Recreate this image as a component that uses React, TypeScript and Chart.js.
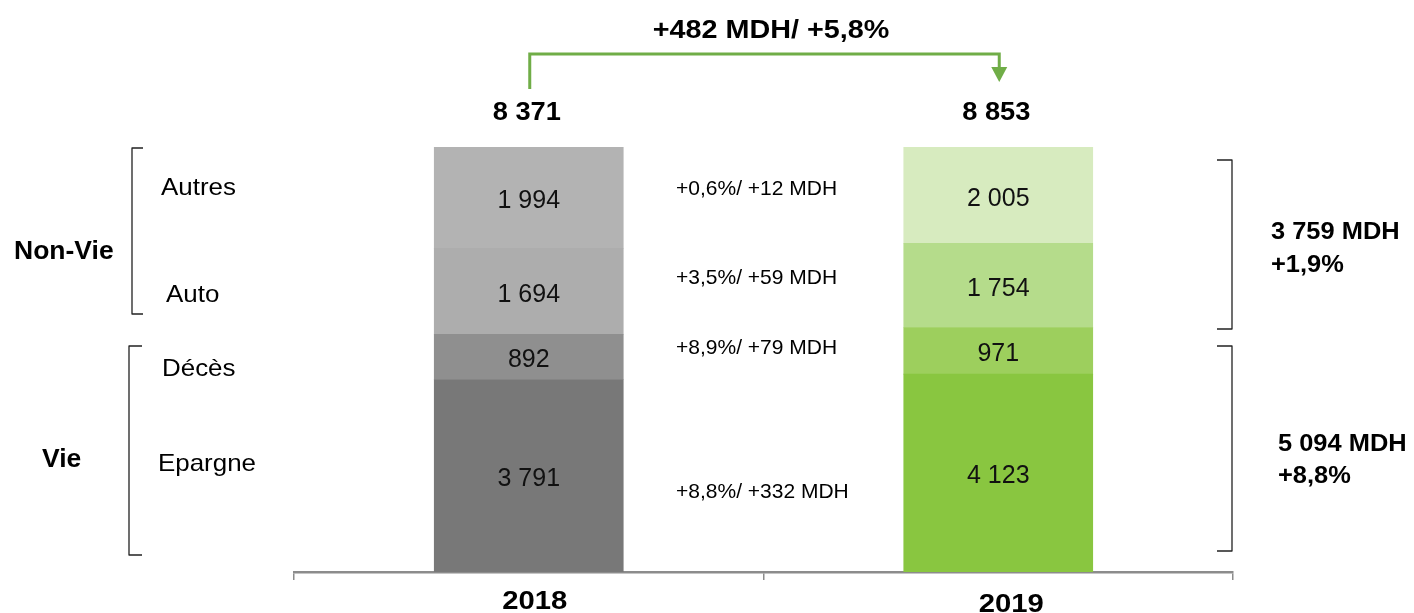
import React, { useEffect, useRef } from 'react';
import { Chart, registerables } from 'chart.js';

Chart.register(...registerables);

// ---- data ----
const years = ['2018', '2019'];
const segmentNames = ['Epargne', 'Décès', 'Auto', 'Autres']; // bottom -> top
const epargne = [3791, 4123];
const deces = [892, 971];
const auto = [1694, 1754];
const autres = [1994, 2005];
const segmentChanges = ['+8,8%/ +332 MDH', '+8,9%/ +79 MDH', '+3,5%/ +59 MDH', '+0,6%/ +12 MDH'];
const groupNames = ['Vie', 'Non-Vie'];
const groupGrowth = ['+8,8%', '+1,9%'];
const totalChange = '+482 MDH/ +5,8%';

const grayPalette = ['#787878', '#8f8f8f', '#adadad', '#b3b3b3'];
const greenPalette = ['#89c640', '#9dcf5d', '#b5dc8b', '#d7ebbf'];

const series = [epargne, deces, auto, autres];
const totals = years.map((_, i) => series.reduce((s, a) => s + a[i], 0));
const vie2019 = epargne[1] + deces[1];
const nonVie2019 = auto[1] + autres[1];

const fmt = (n: number) => Math.round(n).toString().replace(/\B(?=(\d{3})+(?!\d))/g, ' ');

const FONT = '"Liberation Sans", Arial, sans-serif';

function txt(ctx: CanvasRenderingContext2D, s: string, x: number, y: number, size: number, bold: boolean, align: CanvasTextAlign = 'left', sx = 1, baseline: CanvasTextBaseline = 'alphabetic', color = '#000') {
  ctx.save();
  ctx.font = `${bold ? 'bold ' : ''}${size}px ${FONT}`;
  ctx.textAlign = align;
  ctx.textBaseline = baseline;
  ctx.fillStyle = color;
  ctx.translate(x, y);
  ctx.scale(sx, 1);
  ctx.fillText(s, 0, 0);
  ctx.restore();
}

function bracket(ctx: CanvasRenderingContext2D, x: number, y1: number, y2: number, tip: number) {
  ctx.save();
  ctx.strokeStyle = '#222';
  ctx.lineWidth = 1.3;
  ctx.lineJoin = 'round';
  ctx.beginPath();
  ctx.moveTo(tip, y1);
  ctx.lineTo(x, y1);
  ctx.lineTo(x, y2);
  ctx.lineTo(tip, y2);
  ctx.stroke();
  ctx.restore();
}

const valueLabels = {
  id: 'valueLabels',
  afterDatasetsDraw(chart: any) {
    const ctx = chart.ctx;
    chart.data.datasets.forEach((ds: any, k: number) => {
      const meta = chart.getDatasetMeta(k);
      meta.data.forEach((el: any, i: number) => {
        const y = (el.y + el.base) / 2 + 3.5;
        txt(ctx, fmt(ds.raw[i]), el.x, y, 25, false, 'center', 1, 'middle', '#111');
      });
    });
  },
};

const annotations = {
  id: 'annotations',
  afterDraw(chart: any) {
    const ctx = chart.ctx;
    const xs = chart.scales.x;
    const cx = years.map((_, i) => xs.getPixelForValue(i));

    // top arrow
    ctx.save();
    ctx.strokeStyle = '#70ad47';
    ctx.fillStyle = '#70ad47';
    ctx.lineWidth = 3;
    ctx.beginPath();
    ctx.moveTo(cx[0] + 1, 89);
    ctx.lineTo(cx[0] + 1, 54);
    ctx.lineTo(cx[1] + 1, 54);
    ctx.lineTo(cx[1] + 1, 68);
    ctx.stroke();
    ctx.beginPath();
    ctx.moveTo(cx[1] - 7, 67);
    ctx.lineTo(cx[1] + 9, 67);
    ctx.lineTo(cx[1] + 1, 82);
    ctx.closePath();
    ctx.fill();
    ctx.restore();

    txt(ctx, totalChange, 771, 38, 25, true, 'center', 1.15);
    totals.forEach((t, i) => txt(ctx, fmt(t), cx[i] - 2, 120, 25, true, 'center', 1.09));

    // years
    const yearOff = [6, 13];
    const yearBase = [609, 612];
    years.forEach((y, i) => txt(ctx, y, cx[i] + yearOff[i], yearBase[i], 25, true, 'center', 1.17));

    // left brackets & labels
    bracket(ctx, 132, 148, 314, 143);
    bracket(ctx, 129, 346, 555, 142);
    txt(ctx, groupNames[1], 14, 259, 25, true, 'left', 1.06);
    txt(ctx, groupNames[0], 42, 467, 25, true, 'left', 1.06);
    const catPos = [[158, 471], [162, 376], [166, 302], [161, 195]];
    segmentNames.forEach((n, k) => txt(ctx, n, catPos[k][0], catPos[k][1], 24, false, 'left', 1.08));

    // middle change annotations
    const chgY = [498, 354, 284, 195];
    segmentChanges.forEach((s, k) => txt(ctx, s, 676, chgY[k], 21, false, 'left', 1));

    // right brackets & labels
    bracket(ctx, 1232, 160, 329, 1217);
    bracket(ctx, 1232, 346, 551, 1217);
    txt(ctx, `${fmt(nonVie2019)} MDH`, 1271, 239, 24, true, 'left', 1.06);
    txt(ctx, groupGrowth[1], 1271, 272, 24, true, 'left', 1.06);
    txt(ctx, `${fmt(vie2019)} MDH`, 1278, 451, 24, true, 'left', 1.06);
    txt(ctx, groupGrowth[0], 1278, 483, 24, true, 'left', 1.06);
  },
};

export default function App() {
  const ref = useRef<HTMLCanvasElement>(null);
  useEffect(() => {
    if (!ref.current) return;
    const chart = new Chart(ref.current, {
      type: 'bar',
      data: {
        labels: years,
        datasets: segmentNames.map((name, k) => ({
          label: name,
          data: series[k].map((v, i) => (v / totals[i]) * 100),
          raw: series[k],
          backgroundColor: [grayPalette[k], greenPalette[k]],
          borderWidth: 0,
          barThickness: 189,
        })) as any,
      },
      options: {
        responsive: false,
        animation: false,
        events: [],
        layout: { padding: { left: 294, right: 181, top: 147, bottom: 33 } },
        plugins: { legend: { display: false }, tooltip: { enabled: false }, title: { display: false } },
        scales: {
          x: {
            stacked: true,
            offset: true,
            grid: {
              display: true,
              offset: true,
              drawOnChartArea: false,
              drawTicks: true,
              tickLength: 8,
              color: '#8c8c8c',
              tickColor: '#8c8c8c',
              lineWidth: 1.5,
            },
            border: { display: true, color: '#8c8c8c', width: 2.5 },
            ticks: { display: false },
          },
          y: { stacked: true, min: 0, max: 100, display: false },
        },
      },
      plugins: [valueLabels, annotations],
    });
    return () => chart.destroy();
  }, []);
  return (
    <div style={{ position: 'fixed', left: 0, top: 0, width: 1414, height: 613, background: '#fff' }}>
      <canvas ref={ref} width={1414} height={613} style={{ display: 'block' }} />
    </div>
  );
}
